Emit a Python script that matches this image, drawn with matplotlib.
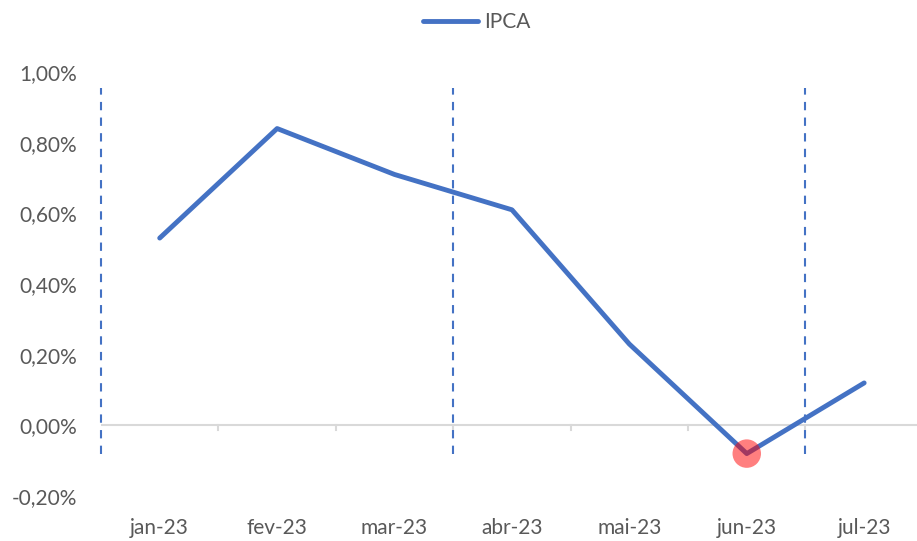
import matplotlib
matplotlib.use("Agg")
import matplotlib.pyplot as plt
from matplotlib.ticker import FuncFormatter

categories = ["jan-23", "fev-23", "mar-23", "abr-23", "mai-23", "jun-23", "jul-23"]
ipca = [0.53, 0.84, 0.71, 0.61, 0.23, -0.08, 0.12]
yticks = [-0.20, 0.00, 0.20, 0.40, 0.60, 0.80, 1.00]
divider_positions = [-0.5, 2.5, 5.5]
divider_top = 0.955
divider_bottom = -0.08
highlight_index = 5

plt.rcParams['font.family'] = ['Lato', 'DejaVu Sans']
blue = "#4472C4"
gray_text = "#595959"

fig = plt.figure(figsize=(9.17, 5.41), dpi=100)
ax = fig.add_axes([101/917, 1 - 496/541, (917 - 101)/917, (496 - 72)/541])

x = list(range(len(categories)))
ax.plot(x, ipca, color=blue, lw=3.5, solid_capstyle='round', solid_joinstyle='round', label="IPCA", zorder=3)
ax.scatter([x[highlight_index]], [ipca[highlight_index]], s=420, color="#FF0000", alpha=0.5, zorder=4, edgecolors='none')

for xp in divider_positions:
    ax.plot([xp, xp], [divider_bottom, divider_top], color=blue, lw=1.5, ls=(0, (4, 3.5)), zorder=2, clip_on=False)

ax.set_xlim(-0.5, 6.45)
ax.set_ylim(-0.2, 1.0)
ax.set_yticks(yticks)
ax.yaxis.set_major_formatter(FuncFormatter(lambda v, p: f"{v:.2f}%".replace(".", ",")))
ax.set_xticks(x)
ax.set_xticklabels(categories)

for s in ["top", "right", "left", "bottom"]:
    ax.spines[s].set_visible(False)
ax.axhline(0, color="#D9D9D9", lw=1.5, zorder=1)

ax.tick_params(axis='y', length=0, labelsize=15, labelcolor=gray_text, pad=17)
ax.tick_params(axis='x', which='major', length=0, labelsize=15, labelcolor=gray_text, pad=16)
for xb in [i + 0.5 for i in range(0, 7)]:
    ax.plot([xb, xb], [0, -0.014], color="#D9D9D9", lw=1.5, zorder=1, clip_on=False)

leg = fig.legend(loc='upper center', bbox_to_anchor=(0.52, 0.993), frameon=False, fontsize=15,
                 handlelength=2.65, labelcolor=gray_text, handletextpad=0.3, borderaxespad=0.0)

fig.savefig("out.png", dpi=100)
